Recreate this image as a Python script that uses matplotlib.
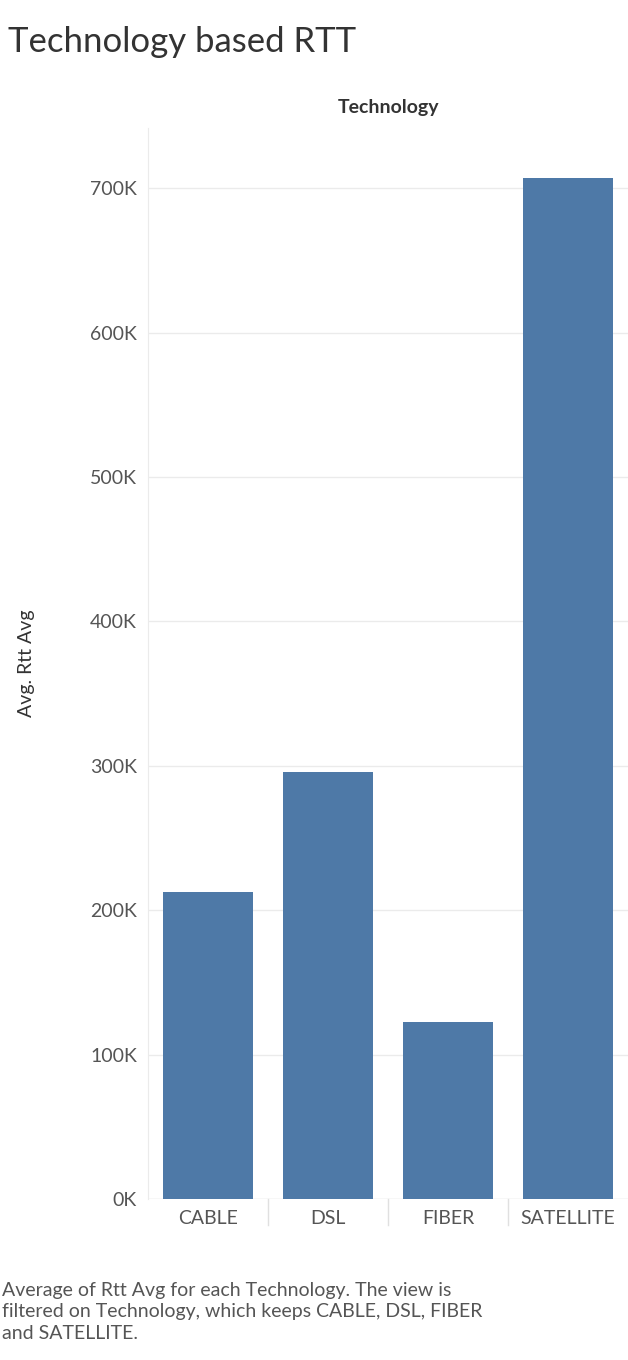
import matplotlib.pyplot as plt

categories = ["CABLE", "DSL", "FIBER", "SATELLITE"]
rtt_avg = [212600, 295700, 122600, 707000]
yticks = [0, 100000, 200000, 300000, 400000, 500000, 600000, 700000]
ytick_labels = ["0K", "100K", "200K", "300K", "400K", "500K", "600K", "700K"]

plt.rcParams["font.family"] = ["Lato", "DejaVu Sans"]

fig = plt.figure(figsize=(6.28, 13.6), dpi=100)
ax = fig.add_axes([148 / 628, 1 - 1199 / 1360, 480 / 628, (1199 - 128) / 1360])

x = range(len(categories))
ax.bar(x, rtt_avg, width=0.75, color="#4e79a7", zorder=3)
ax.set_xlim(-0.5, len(categories) - 0.5)
ax.set_ylim(0, 741700)
ax.set_yticks(yticks)
ax.set_yticklabels(ytick_labels, fontsize=14, color="#555555")
ax.set_xticks(list(x))
ax.set_xticklabels(categories, fontsize=14, color="#555555")
ax.tick_params(axis="both", length=0, pad=8)
ax.grid(axis="y", color="#ebebeb", linewidth=1, zorder=0)
for s in ["top", "right", "bottom"]:
    ax.spines[s].set_visible(False)
ax.spines["left"].set_color("#ebebeb")

# category separators below axis
for i in range(1, len(categories)):
    ax.plot([i - 0.5, i - 0.5], [0, -18000], color="#e0e0e0", lw=1, clip_on=False)
ax.axhline(0, color="#ebebeb", lw=1, zorder=2)

ax.set_ylabel("Avg. Rtt Avg", fontsize=14, color="#333333", labelpad=20)
ax.yaxis.set_label_coords(-0.235, 0.5)

fig.text(8 / 628, 1 - 42 / 1360, "Technology based RTT", fontsize=25, color="#333333", va="center")
fig.text(388 / 628, 1 - 108 / 1360, "Technology", fontsize=14, fontweight="bold",
         color="#333333", ha="center", va="center")
fig.text(2 / 628, 1 - 1312 / 1360,
         "Average of Rtt Avg for each Technology. The view is\n"
         "filtered on Technology, which keeps CABLE, DSL, FIBER\n"
         "and SATELLITE.",
         fontsize=14, color="#555555", va="center", linespacing=1.3)

fig.savefig("out.png", dpi=100)
